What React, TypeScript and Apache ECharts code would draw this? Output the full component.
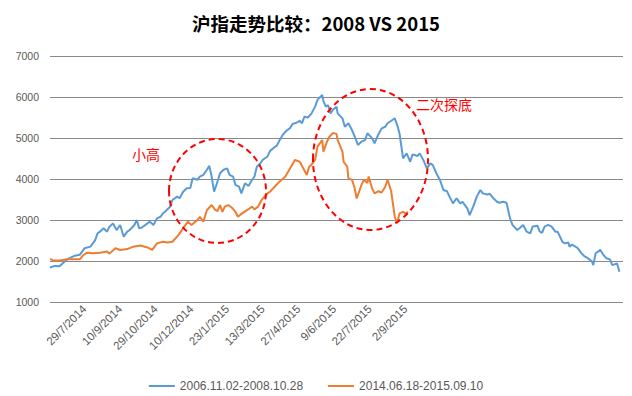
import React, { useEffect, useRef } from "react";
import * as echarts from "echarts";

const title = "沪指走势比较：2008 VS 2015";
const seriesNames = ["2006.11.02-2008.10.28", "2014.06.18-2015.09.10"];

// x = trading-day index, y = index level
const blueDay = [0, 4, 8, 11, 15, 21, 25, 29, 34, 38, 40, 42, 45, 48, 50, 53, 56, 59, 62, 65, 67, 71, 73, 75, 77, 82, 84, 87, 90, 93, 95, 98, 101, 103, 107, 109, 112, 115, 118, 120, 124, 126, 129, 132, 134, 136, 138, 140, 143, 146, 149, 151, 154, 156, 159, 161, 164, 167, 169, 172, 174, 177, 179, 183, 185, 188, 191, 193, 196, 199, 202, 204, 208, 210, 212, 214, 217, 220, 223, 225, 229, 230, 232, 234, 236, 238, 241, 242, 246, 248, 251, 254, 257, 259, 262, 265, 267, 271, 273, 276, 279, 282, 284, 288, 290, 292, 294, 296, 297, 300, 303, 305, 309, 311, 314, 317, 320, 322, 325, 328, 331, 334, 336, 339, 342, 345, 347, 351, 353, 356, 359, 362, 364, 368, 370, 373, 376, 378, 381, 384, 387, 389, 393, 395, 398, 401, 404, 406, 410, 412, 414, 416, 419, 422, 425, 427, 431, 433, 436, 437, 439, 442, 444, 447, 450, 452, 456, 457, 459, 463, 465, 468, 471, 473, 477, 479];
const blueVal = [1840, 1880, 1870, 1950, 2050, 2130, 2150, 2310, 2350, 2510, 2675, 2715, 2800, 2715, 2837, 2918, 2755, 2877, 2593, 2715, 2755, 2877, 3000, 2800, 2810, 2918, 2960, 2877, 3040, 3080, 3160, 3240, 3325, 3488, 3570, 3530, 3690, 3775, 3780, 4020, 3980, 4060, 4100, 4225, 4320, 4060, 3690, 3855, 4140, 4225, 4260, 4100, 4060, 3855, 3815, 3650, 3895, 3830, 3935, 4060, 4300, 4385, 4470, 4550, 4680, 4755, 4820, 4940, 5085, 5180, 5245, 5340, 5380, 5420, 5360, 5520, 5500, 5600, 5765, 5930, 6050, 5900, 5765, 5800, 5600, 5690, 5765, 5600, 5480, 5275, 5360, 5195, 4990, 4830, 4910, 4950, 5115, 4990, 4870, 5075, 5235, 5275, 5360, 5440, 5480, 5320, 5115, 4707, 4505, 4625, 4420, 4600, 4560, 4625, 4465, 4260, 4380, 4340, 4140, 3975, 3730, 3700, 3570, 3405, 3530, 3405, 3440, 3285, 3120, 3325, 3570, 3730, 3650, 3620, 3640, 3530, 3445, 3420, 3445, 3420, 3040, 2880, 2755, 2800, 2880, 2715, 2675, 2840, 2860, 2715, 2690, 2840, 2880, 2840, 2715, 2715, 2470, 2430, 2450, 2350, 2400, 2350, 2310, 2190, 2105, 2080, 1985, 1900, 2190, 2270, 2170, 2065, 2040, 1900, 1940, 1740];

const orangeDay = [0, 3, 8, 14, 25, 28, 31, 36, 42, 48, 50, 55, 59, 65, 70, 76, 82, 86, 90, 95, 99, 103, 108, 112, 116, 119, 124, 126, 129, 132, 136, 139, 141, 143, 145, 147, 150, 153, 156, 158, 161, 166, 170, 172, 175, 178, 183, 185, 189, 193, 198, 202, 206, 210, 213, 216, 218, 220, 223, 225, 229, 230, 233, 235, 238, 241, 242, 246, 247, 250, 251, 254, 256, 258, 260, 262, 264, 267, 268, 271, 273, 276, 279, 282, 284, 287, 288, 290, 292, 294, 297, 299, 301];
const orangeVal = [2050, 2010, 2010, 2040, 2040, 2146, 2200, 2190, 2200, 2230, 2180, 2310, 2270, 2290, 2350, 2380, 2330, 2270, 2430, 2470, 2450, 2470, 2630, 2800, 2960, 2880, 3000, 3080, 2960, 3245, 3365, 3245, 3220, 3365, 3200, 3325, 3365, 3300, 3200, 3080, 3150, 3245, 3325, 3260, 3325, 3490, 3650, 3690, 3810, 3935, 4060, 4260, 4465, 4425, 4260, 4100, 4300, 4350, 4465, 4790, 4950, 4665, 4910, 5030, 5120, 5100, 4950, 4665, 4420, 4300, 4020, 3980, 3810, 3525, 3690, 3855, 3980, 3900, 4060, 3770, 3650, 3700, 3670, 3810, 3980, 3700, 3490, 3080, 2920, 3160, 3200, 3150, 3200];

const tickDays = [29, 59, 89, 119, 149, 179, 209, 239, 269, 299];
const tickLabels = ["29/7/2014", "10/9/2014", "29/10/2014", "10/12/2014", "23/1/2015", "13/3/2015", "27/4/2015", "9/6/2015", "22/7/2015", "2/9/2015"];

const notes = ["小高", "二次探底"];

export default function App() {
  const ref = useRef<HTMLDivElement>(null);
  useEffect(() => {
    if (!ref.current) return;
    const chart = echarts.init(ref.current, null, { renderer: "svg" });
    const font = "'Liberation Sans', Arial, sans-serif";
    const cjk = "'Noto Sans CJK SC', sans-serif";
    chart.setOption({
      animation: false,
      title: {
        text: title,
        left: "center",
        top: 9,
        textStyle: { fontSize: 18.5, fontWeight: "bold", color: "#000", fontFamily: cjk },
      },
      grid: { left: 50, right: 9, top: 56, bottom: 94, containLabel: false, outerBoundsMode: "none" },
      legend: {
        top: 375,
        left: "center",
        icon: "rect",
        itemWidth: 26,
        itemHeight: 2,
        itemGap: 25,
        textStyle: { fontSize: 12, color: "#595959", fontFamily: font },
        data: seriesNames,
      },
      xAxis: {
        type: "value",
        min: 0,
        max: 482,
        splitLine: { show: false },
        axisLine: { show: false },
        axisTick: { show: false },
        axisLabel: {
          customValues: tickDays,
          rotate: 45,
          margin: 5,
          fontSize: 11.5,
          color: "#595959",
          fontFamily: font,
          formatter: (v: number) => {
            const i = tickDays.indexOf(Math.round(v));
            return i >= 0 ? tickLabels[i] : "";
          },
        },
      },
      yAxis: {
        type: "value",
        min: 1000,
        max: 7000,
        interval: 1000,
        axisLine: { show: false },
        axisTick: { show: false },
        splitLine: { lineStyle: { color: "#8a8a8a", width: 1 } },
        axisLabel: { fontSize: 10.5, color: "#595959", margin: 11, fontFamily: font, formatter: (v: number) => String(v) },
      },
      series: [
        {
          name: seriesNames[0],
          type: "line",
          showSymbol: false,
          data: blueDay.map((d, i) => [d, blueVal[i]]),
          lineStyle: { width: 2, color: "#5B9BD5" },
          itemStyle: { color: "#5B9BD5" },
        },
        {
          name: seriesNames[1],
          type: "line",
          showSymbol: false,
          data: orangeDay.map((d, i) => [d, orangeVal[i]]),
          lineStyle: { width: 2, color: "#ED7D31" },
          itemStyle: { color: "#ED7D31" },
        },
      ],
      graphic: [
        {
          type: "ellipse",
          shape: { cx: 217.5, cy: 191, rx: 48.5, ry: 52 },
          style: { fill: "none", stroke: "#FF0000", lineWidth: 2, lineDash: [6, 4] },
          z: 100,
        },
        {
          type: "ellipse",
          shape: { cx: 370.5, cy: 159.5, rx: 57.5, ry: 70.5 },
          style: { fill: "none", stroke: "#FF0000", lineWidth: 2, lineDash: [6, 4] },
          z: 100,
        },
        {
          type: "text",
          x: 146,
          y: 154,
          style: { text: notes[0], fill: "#FF0000", fontSize: 14, align: "center", verticalAlign: "middle", fontFamily: cjk },
          z: 100,
        },
        {
          type: "text",
          x: 444,
          y: 104,
          style: { text: notes[1], fill: "#FF0000", fontSize: 14, align: "center", verticalAlign: "middle", fontFamily: cjk },
          z: 100,
        },
      ],
    });
    return () => chart.dispose();
  }, []);
  return <div ref={ref} style={{ position: "absolute", left: 0, top: 0, width: 632, height: 396 }} />;
}
